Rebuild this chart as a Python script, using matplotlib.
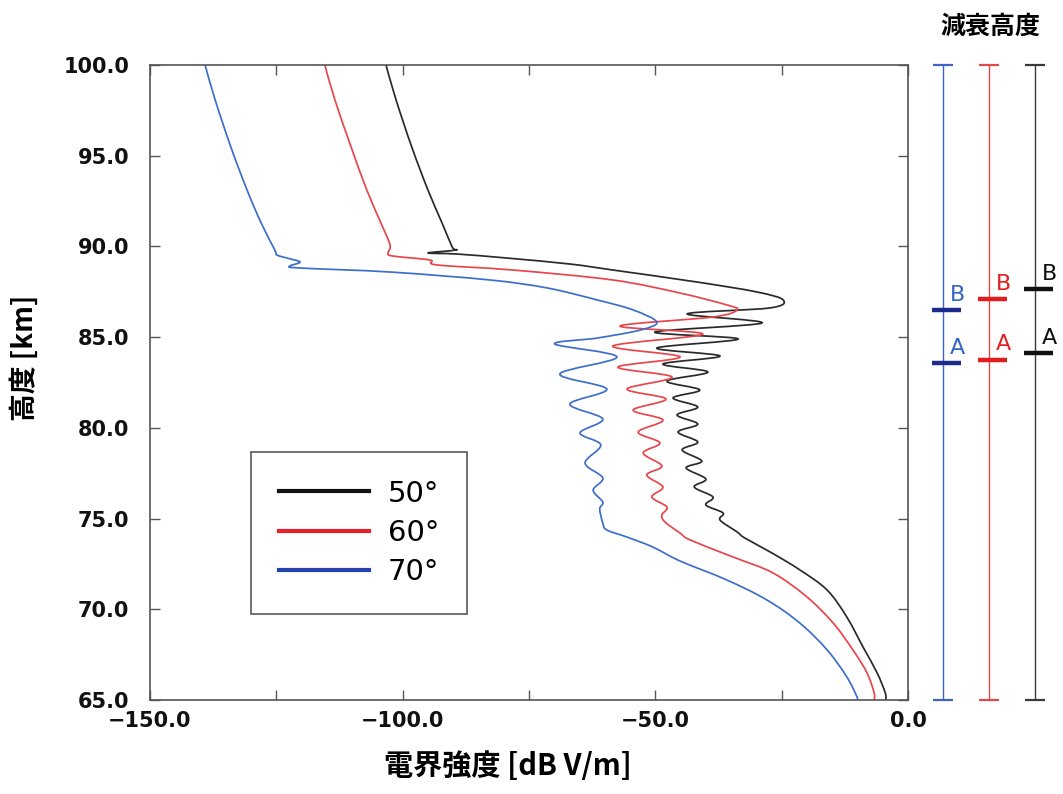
import matplotlib
matplotlib.use("Agg")
import numpy as np
import matplotlib.pyplot as plt
from matplotlib.lines import Line2D
from matplotlib.path import Path
from matplotlib.patches import PathPatch
from matplotlib.ticker import MultipleLocator, FuncFormatter

# ---- data ----
angles = ["50°", "60°", "70°"]

x50 = [-103.3, -101.3, -98.2, -95.0, -92.2, -90.2, -89.6, -95.0, -89.2, -79.4, -66.9, -58.4,
       -41.8, -29.9, -24.7, -27.3, -43.7, -28.9, -50.1, -33.6, -49.7, -37.2, -48.5, -39.6,
       -47.7, -41.2, -46.5, -41.6, -45.7, -41.6, -45.5, -41.6, -44.7, -40.8, -43.9, -40.0,
       -42.3, -38.6, -40.0, -36.6, -37.2, -33.8, -32.3, -26.9, -21.4, -16.0, -12.1, -8.9,
       -6.1, -4.5, -4.4]
y50 = [100.0, 98.07, 95.48, 93.11, 91.29, 89.97, 89.80, 89.64, 89.58, 89.36, 89.03, 88.70,
       88.04, 87.49, 87.05, 86.61, 86.28, 85.78, 85.28, 84.90, 84.40, 83.96, 83.52, 83.08,
       82.58, 82.09, 81.65, 81.15, 80.71, 80.21, 79.77, 79.22, 78.78, 78.17, 77.79, 77.18,
       76.74, 76.19, 75.75, 75.31, 74.92, 74.26, 73.93, 73.10, 72.17, 71.06, 69.57, 67.92,
       66.49, 65.39, 65.0]

x60 = [-115.4, -113.4, -110.2, -107.1, -104.3, -102.5, -102.9, -101.9, -94.6, -93.2, -78.2,
       -58.4, -45.1, -35.8, -33.8, -38.6, -57.0, -40.6, -58.4, -45.1, -57.4, -46.7, -55.6,
       -47.9, -54.4, -48.5, -53.4, -49.1, -52.4, -48.7, -51.7, -48.5, -50.7, -47.7, -48.7,
       -48.1, -45.1, -43.1, -34.6, -26.7, -20.0, -14.8, -10.9, -8.1, -6.7, -6.7]
y60 = [100.0, 98.07, 95.48, 93.11, 91.29, 90.08, 89.64, 89.47, 89.25, 88.98, 88.70,
       88.15, 87.43, 86.77, 86.50, 86.11, 85.61, 85.17, 84.51, 83.91, 83.35, 82.80, 82.14,
       81.59, 80.98, 80.43, 79.77, 79.17, 78.61, 77.90, 77.40, 76.74, 76.19, 75.64, 75.20,
       74.81, 74.20, 73.82, 72.88, 72.00, 70.68, 69.24, 67.76, 66.49, 65.39, 65.0]

x70 = [-139.1, -137.1, -134.0, -130.8, -128.0, -125.3, -124.9, -122.9, -120.3, -122.3, -120.3,
       -102.5, -82.7, -71.4, -61.5, -54.4, -49.7, -53.0, -61.5, -69.9, -57.6, -68.9, -59.6,
       -66.9, -60.4, -64.9, -60.8, -63.9, -60.4, -62.3, -60.4, -61.0, -60.4, -59.6, -55.6,
       -50.5, -45.1, -35.8, -27.9, -21.4, -16.0, -12.1, -10.1, -10.1]
y70 = [100.0, 98.07, 95.48, 93.11, 91.29, 89.80, 89.53, 89.36, 89.14, 88.92, 88.81,
       88.59, 88.15, 87.71, 87.05, 86.50, 85.83, 85.39, 84.95, 84.62, 83.91, 82.97, 82.14,
       81.31, 80.49, 79.72, 79.06, 78.06, 77.24, 76.57, 75.91, 75.53, 74.76, 74.37, 73.98,
       73.43, 72.66, 71.61, 70.51, 69.24, 67.76, 66.27, 65.17, 65.0]

# attenuation heights (right panel): order blue(70), red(60), black(50)
atten_A = [83.55, 83.75, 84.10]
atten_B = [86.50, 87.10, 87.65]

# ---- style ----
curve_colors = {"50°": "#2a2a2a", "60°": "#e8464c", "70°": "#3d6ecb"}
legend_colors = {"50°": "#111111", "60°": "#e3222b", "70°": "#2545ad"}
cjk = ["Noto Sans CJK JP", "DejaVu Sans"]


def smooth_path(xs, ys):
    """Catmull-Rom curve through the read points, as cubic Bezier segments."""
    p = np.column_stack([xs, ys]).astype(float)
    pp = np.vstack([p[0], p, p[-1]])
    verts = [p[0]]
    codes = [Path.MOVETO]
    for i in range(1, len(pp) - 2):
        p0, p1, p2, p3 = pp[i - 1], pp[i], pp[i + 1], pp[i + 2]
        verts += [p1 + (p2 - p0) / 6.0, p2 - (p3 - p1) / 6.0, p2]
        codes += [Path.CURVE4] * 3
    return Path(verts, codes)


W, H = 1063, 794
fig = plt.figure(figsize=(W / 100, H / 100), dpi=100)

L, R, T, B = 150, 908, 65, 700
ax = fig.add_axes([L / W, 1 - B / H, (R - L) / W, (B - T) / H])

series = {"50°": (x50, y50), "60°": (x60, y60), "70°": (x70, y70)}
for name in angles:
    xs, ys = series[name]
    ax.add_patch(PathPatch(smooth_path(xs, ys), facecolor="none",
                           edgecolor=curve_colors[name], lw=1.25, joinstyle="round"))

ax.set_xlim(-150, 0)
ax.set_ylim(65, 100)
ax.xaxis.set_major_locator(MultipleLocator(50))
ax.xaxis.set_minor_locator(MultipleLocator(25))
ax.yaxis.set_major_locator(MultipleLocator(5))
fmt = FuncFormatter(lambda v, p: ("%.1f" % v).replace("-", "\u2212"))
ax.xaxis.set_major_formatter(fmt)
ax.yaxis.set_major_formatter(fmt)
for s in ax.spines.values():
    s.set_color("#555555")
    s.set_linewidth(1.2)
ax.tick_params(which="both", direction="in", length=7, width=1.0, color="#555555",
               top=True, right=True)
ax.tick_params(axis="x", which="major", pad=8)
ax.tick_params(axis="y", which="major", pad=15)
for lab in ax.get_xticklabels() + ax.get_yticklabels():
    lab.set_fontfamily("DejaVu Sans")
    lab.set_fontweight("bold")
    lab.set_fontsize(15)
    lab.set_color("#111111")

handles = [Line2D([0], [0], color=legend_colors[n], lw=3) for n in angles]
leg = ax.legend(handles, angles, loc="upper left", bbox_to_anchor=(0.133, 0.3906),
                borderaxespad=0, handlelength=3.1, handletextpad=0.65,
                labelspacing=0.38, borderpad=0.95, fancybox=False, framealpha=1,
                edgecolor="#666666", prop={"family": "DejaVu Sans", "size": 21})
leg.get_frame().set_linewidth(1.3)

# ---- right panel ----
ax2 = fig.add_axes([915 / W, 1 - B / H, (W - 915) / W, (B - T) / H])
ax2.set_xlim(-0.61, 2.6)
ax2.set_ylim(65, 100)
ax2.axis("off")
line_colors = ["#3f63c2", "#e04a4a", "#3a3a3a"]
mark_colors = ["#1b2a8f", "#e11d1d", "#111111"]
text_colors = ["#3565c4", "#e3201f", "#111111"]
for i in range(3):
    ax2.vlines(i, 65, 100, color=line_colors[i], lw=1.0, clip_on=False)
    ax2.hlines([65, 100], i - 0.22, i + 0.22, color=line_colors[i], lw=1.6, clip_on=False)
    for h, lab in ((atten_A[i], "A"), (atten_B[i], "B")):
        ax2.hlines(h, i - 0.25, i + 0.38, color=mark_colors[i], lw=3.2, clip_on=False)
        ax2.text(i + 0.15, h + 0.85, lab, color=text_colors[i], fontsize=16,
                 family="DejaVu Sans", ha="left", va="center")

fig.text(990 / W, 1 - 27 / H, "減衰高度", family=cjk, fontweight="bold", fontsize=18,
         ha="center", va="center")
fig.text(508 / W, 1 - 766 / H, "電界強度 [dB V/m]", family=cjk, fontweight="bold",
         fontsize=21, ha="center", va="center")
fig.text(25 / W, 1 - 358 / H, "高度 [km]", family=cjk, fontweight="bold",
         fontsize=20, ha="center", va="center", rotation=90)

fig.savefig("out.png", dpi=100, facecolor="white")
